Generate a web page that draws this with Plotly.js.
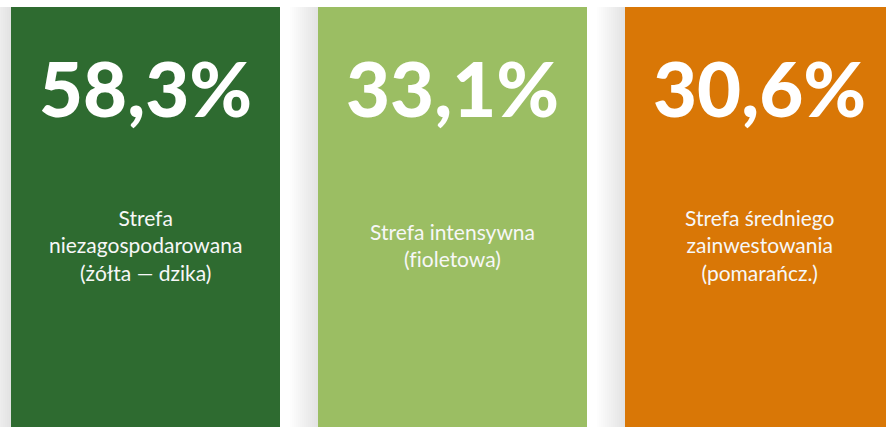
<!DOCTYPE html>
<html>
<head>
<meta charset="utf-8">
<script src="https://cdn.plot.ly/plotly-3.0.1.min.js"></script>
<style>html,body{margin:0;padding:0;background:#fff;}#chart{width:886px;height:427px;}#chart text{font-variant-ligatures:none;font-feature-settings:"liga" 0;}</style>
</head>
<body>
<div id="chart"></div>
<script>
const categories = ['Strefa<br>niezagospodarowana<br>(żółta — dzika)', 'Strefa intensywna<br>(fioletowa)', 'Strefa średniego<br>zainwestowania<br>(pomarańcz.)'];
const values = [58.3, 33.1, 30.6];
const colors = ['#2e6b30', '#9bbe63', '#d97706'];
const cardHeight = [1, 1, 1];

const W = 886, H = 427;
const step = 307;            // px between card centres
const cardW = 269 / step;    // card width in category units
const firstCenter = 145.5;   // px
const x0 = -firstCenter / step;
const x1 = x0 + W / step;
const yTop = 427 / 420;

const xs = categories.map((c, i) => i);

const shapes = [];
xs.forEach(i => {
  const left = i - cardW / 2;
  for (let w = 2; w <= 28; w += 2) {
    shapes.push({type: 'rect', xref: 'x', yref: 'y', layer: 'below',
      x0: left - w / step, x1: left, y0: 0, y1: 1,
      line: {width: 0}, fillcolor: 'rgba(0,0,0,0.008)'});
  }
});

const annotations = [];
xs.forEach(i => {
  annotations.push({x: i, y: 0.795, xref: 'x', yref: 'paper', showarrow: false,
    text: values[i].toFixed(1).replace('.', ',') + '%', xanchor: 'center', yanchor: 'middle',
    font: {family: 'Lato, sans-serif', size: 76, color: '#ffffff', weight: 900}});
  annotations.push({x: i, y: 0.426, xref: 'x', yref: 'paper', showarrow: false,
    text: categories[i], xanchor: 'center', yanchor: 'middle', align: 'center',
    font: {family: 'Lato, sans-serif', size: 21, color: '#f7f7f7'}});
});

Plotly.newPlot('chart', [{
  type: 'bar', x: xs, y: cardHeight, width: cardW,
  marker: {color: colors, line: {width: 0}}, hoverinfo: 'skip'
}], {
  width: W, height: H,
  margin: {l: 0, r: 0, t: 0, b: 0},
  paper_bgcolor: '#ffffff', plot_bgcolor: '#ffffff',
  showlegend: false,
  xaxis: {range: [x0, x1], visible: false, fixedrange: true},
  yaxis: {range: [0, yTop], visible: false, fixedrange: true},
  shapes: shapes, annotations: annotations
}, {staticPlot: true, displayModeBar: false});
</script>
</body>
</html>
